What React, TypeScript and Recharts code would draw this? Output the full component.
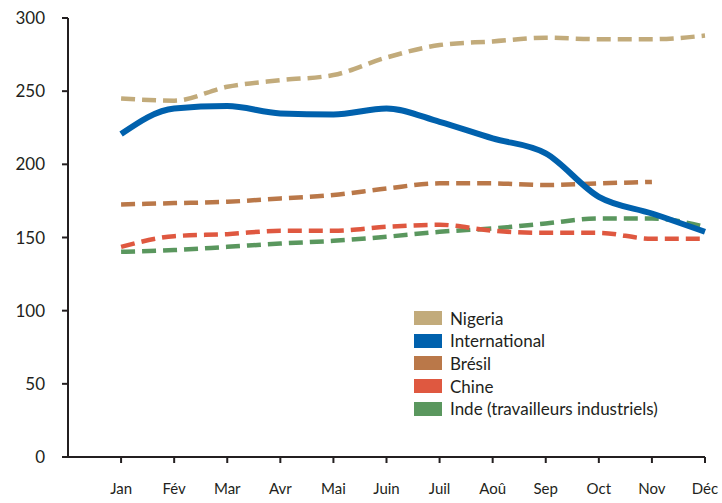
import { LineChart, Line, XAxis, YAxis } from "recharts";

const months = ["Jan", "Fév", "Mar", "Avr", "Mai", "Juin", "Juil", "Aoû", "Sep", "Oct", "Nov", "Déc"];
const nigeria = [245, 243.5, 253, 257.5, 261, 273, 281.5, 284, 286.5, 285.5, 285.5, 288];
const international = [220.7, 238.2, 239.8, 234.8, 234.1, 238.2, 229, 217.7, 207.5, 177.8, 166.4, 153.9];
const bresil: (number | null)[] = [172.6, 173.5, 174.4, 176.7, 179, 183.5, 187, 187, 185.8, 187, 188, null];
const chine = [143.6, 150.9, 152.3, 154.6, 154.6, 157.3, 158.7, 154.6, 153.2, 153.2, 149.1, 149.1];
const inde = [140.2, 141.4, 143.6, 145.9, 147.7, 150.5, 153.9, 156.2, 159.6, 163, 163, 157.3];
const yTicks = [0, 50, 100, 150, 200, 250, 300];

const data = months.map((m, i) => ({
  x: i + 1,
  month: m,
  nigeria: nigeria[i],
  international: international[i],
  bresil: bresil[i],
  chine: chine[i],
  inde: inde[i],
}));

const legendItems = [
  { name: "Nigeria", color: "#C2AB7B" },
  { name: "International", color: "#0061AD" },
  { name: "Brésil", color: "#BA7849" },
  { name: "Chine", color: "#DF5840" },
  { name: "Inde (travailleurs industriels)", color: "#5A975E" },
];

const font = "Lato, 'Open Sans', sans-serif";
const axisColor = "#231F20";

export default function App() {
  return (
    <div style={{ position: "absolute", left: 0, top: 0, width: 722, height: 503, background: "#fff" }}>
      <LineChart width={722} height={503} data={data} margin={{ top: 18, right: 17, left: 0, bottom: 0 }}>
        <XAxis
          dataKey="x"
          type="number"
          domain={[0, 12]}
          ticks={[1, 2, 3, 4, 5, 6, 7, 8, 9, 10, 11, 12]}
          tickFormatter={(v: number) => months[v - 1]}
          height={46}
          stroke={axisColor}
          strokeWidth={2}
          tickSize={6}
          tickMargin={20}
          tick={{ fill: "#231F20", fontSize: 15, fontFamily: font }}
          interval={0}
        />
        <YAxis
          domain={[0, 300]}
          ticks={yTicks}
          width={68}
          stroke={axisColor}
          strokeWidth={2}
          tickSize={6}
          tickMargin={17}
          tick={{ fill: "#231F20", fontSize: 17, fontFamily: font }}
          interval={0}
        />
        <Line type="monotone" dataKey="nigeria" stroke="#C2AB7B" strokeWidth={4.5} strokeDasharray="14 7" dot={false} isAnimationActive={false} />
        <Line type="monotone" dataKey="bresil" stroke="#BA7849" strokeWidth={4.5} strokeDasharray="14 7" dot={false} isAnimationActive={false} />
        <Line type="monotone" dataKey="inde" stroke="#5A975E" strokeWidth={4.5} strokeDasharray="14 7" dot={false} isAnimationActive={false} />
        <Line type="monotone" dataKey="chine" stroke="#DF5840" strokeWidth={4.5} strokeDasharray="14 7" dot={false} isAnimationActive={false} />
        <Line type="monotone" dataKey="international" stroke="#0061AD" strokeWidth={6} dot={false} isAnimationActive={false} />
      </LineChart>
      <div style={{ position: "absolute", left: 414, top: 307, fontFamily: font, fontSize: 17, color: "#231F20" }}>
        {legendItems.map((item) => (
          <div key={item.name} style={{ display: "flex", alignItems: "center", height: 22.6 }}>
            <div style={{ width: 28, height: 14, background: item.color, marginRight: 8 }} />
            <span>{item.name}</span>
          </div>
        ))}
      </div>
    </div>
  );
}
